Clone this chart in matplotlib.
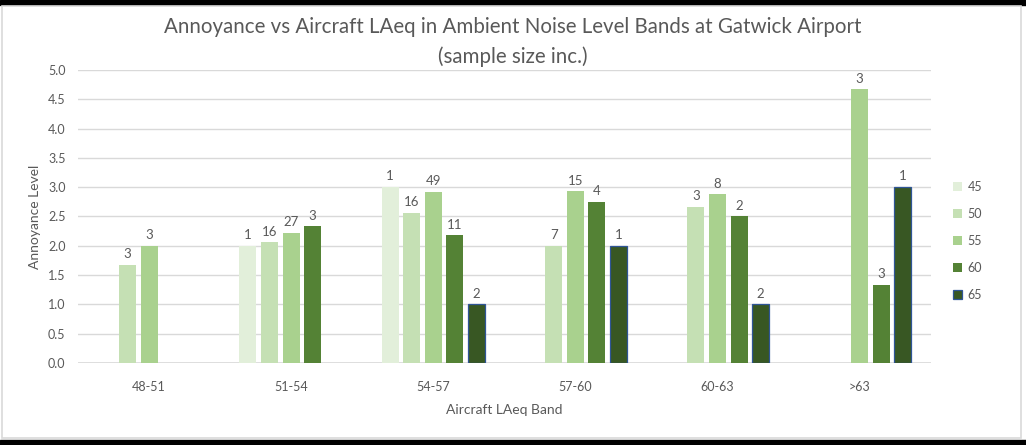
import numpy as np
import matplotlib
matplotlib.use('Agg')
import matplotlib.pyplot as plt
from matplotlib.patches import Rectangle

plt.rcParams['font.family'] = ['Lato', 'DejaVu Sans']

# annoyance by aircraft LAeq band, one series per ambient noise level
bands = ['48-51', '51-54', '54-57', '57-60', '60-63', '>63']
ambient = ['45', '50', '55', '60', '65']

annoy_45 = [np.nan, 2.00, 3.00, np.nan, np.nan, np.nan]
annoy_50 = [1.67, 2.06, 2.56, 2.00, 2.67, np.nan]
annoy_55 = [2.00, 2.22, 2.92, 2.93, 2.88, 4.67]
annoy_60 = [np.nan, 2.33, 2.18, 2.75, 2.50, 1.33]
annoy_65 = [np.nan, np.nan, 1.00, 2.00, 1.00, 3.00]

n_45 = [None, 1, 1, None, None, None]
n_50 = [3, 16, 16, 7, 3, None]
n_55 = [3, 27, 49, 15, 8, 3]
n_60 = [None, 3, 11, 4, 2, 3]
n_65 = [None, None, 2, 1, 2, 1]

values = [annoy_45, annoy_50, annoy_55, annoy_60, annoy_65]
counts = [n_45, n_50, n_55, n_60, n_65]
colors = ['#e2efda', '#c5e0b4', '#a9d18e', '#548235', '#385723']
edges = ['none', 'none', 'none', 'none', '#2f5597']

grey = '#595959'

fig = plt.figure(figsize=(10.26, 4.45), dpi=100)
fig.patch.set_facecolor('white')

# frame around the chart, dark strips top and bottom
fig.add_artist(Rectangle((0, 0.988), 1, 0.012, transform=fig.transFigure,
                         color='black', zorder=-5))
fig.add_artist(Rectangle((0, 0), 1, 0.012, transform=fig.transFigure,
                         color='black', zorder=-5))
fig.add_artist(Rectangle((0.002, 0.016), 0.993, 0.97, transform=fig.transFigure,
                         facecolor='white', edgecolor='#d9d9d9', lw=1.2, zorder=-4))

ax = fig.add_axes([0.076, 0.184, 0.831, 0.659])

x = np.arange(len(bands))
width = 0.12
pitch = 0.152

for i, (vals, ns) in enumerate(zip(values, counts)):
    pos = x + (i - 2) * pitch
    lw = 0.9 if edges[i] != 'none' else 0
    ax.bar(pos, vals, width, color=colors[i], edgecolor=edges[i], linewidth=lw,
           label=ambient[i], zorder=3)
    for xp, v, n in zip(pos, vals, ns):
        if n is None or np.isnan(v):
            continue
        ax.text(xp, v + 0.08, str(n), ha='center', va='bottom',
                fontsize=9.5, color=grey)

ax.set_xlim(-0.5, len(bands) - 0.5)
ax.set_ylim(0, 5)
ax.set_yticks(np.arange(0, 5.01, 0.5))
ax.set_yticklabels([f'{t:.1f}' for t in np.arange(0, 5.01, 0.5)])
ax.set_xticks(x)
ax.set_xticklabels(bands)
ax.tick_params(axis='both', length=0, labelsize=9, labelcolor=grey)
ax.tick_params(axis='y', pad=9)
ax.tick_params(axis='x', pad=13)
ax.grid(axis='y', color='#d9d9d9', linewidth=1, zorder=0)
for s in ax.spines.values():
    s.set_visible(False)
ax.axhline(0, color='#d9d9d9', linewidth=1.2, zorder=2)

ax.set_ylabel('Annoyance Level', fontsize=10, color=grey, labelpad=5)
ax.set_xlabel('Aircraft LAeq Band', fontsize=10, color=grey, labelpad=8)

fig.suptitle('Annoyance vs Aircraft LAeq in Ambient Noise Level Bands at Gatwick Airport\n(sample size inc.)',
             fontsize=14.8, color=grey, y=0.962, linespacing=1.55)

leg = fig.legend(loc='upper left', bbox_to_anchor=(0.918, 0.618), frameon=False,
                 fontsize=9, labelcolor=grey, handlelength=0.7, handleheight=0.7,
                 handletextpad=0.45, labelspacing=1.2)

fig.savefig('out.png', dpi=100)
